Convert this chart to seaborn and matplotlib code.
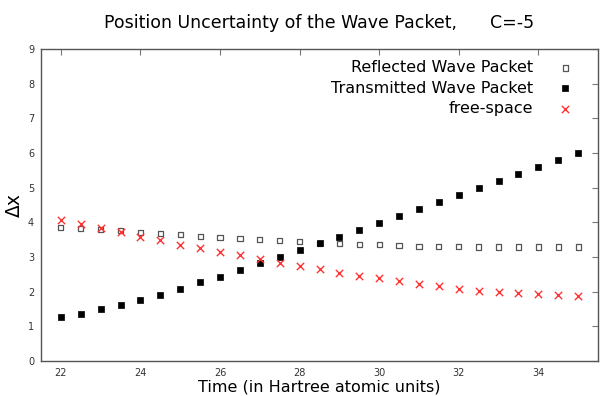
import numpy as np
import pandas as pd
import matplotlib
matplotlib.use("Agg")
import matplotlib.pyplot as plt
import seaborn as sns

time = [22, 22.5, 23, 23.5, 24, 24.5, 25, 25.5, 26, 26.5, 27, 27.5, 28, 28.5,
        29, 29.5, 30, 30.5, 31, 31.5, 32, 32.5, 33, 33.5, 34, 34.5, 35]
reflected = [3.85, 3.82, 3.80, 3.77, 3.71, 3.67, 3.64, 3.60, 3.57, 3.53, 3.51, 3.48, 3.44, 3.39,
             3.39, 3.37, 3.35, 3.33, 3.31, 3.31, 3.31, 3.29, 3.29, 3.29, 3.29, 3.29, 3.29]
transmitted = [1.28, 1.37, 1.49, 1.61, 1.75, 1.91, 2.08, 2.27, 2.43, 2.62, 2.82, 3.01, 3.20, 3.39,
               3.58, 3.78, 3.98, 4.17, 4.38, 4.58, 4.78, 4.99, 5.18, 5.40, 5.60, 5.79, 6.00]
free_space = [4.07, 3.95, 3.83, 3.71, 3.58, 3.48, 3.36, 3.26, 3.15, 3.05, 2.94, 2.83, 2.74, 2.65,
              2.55, 2.46, 2.38, 2.30, 2.23, 2.17, 2.09, 2.03, 1.99, 1.95, 1.92, 1.89, 1.87]
x_ticks = [22, 24, 26, 28, 30, 32, 34]
y_ticks = [0, 1, 2, 3, 4, 5, 6, 7, 8, 9]

df = pd.DataFrame({"t": time, "refl": reflected, "trans": transmitted, "free": free_space})

sns.set_theme(style="white")
plt.rcParams["font.family"] = ["DejaVu Sans"]
plt.rcParams["text.color"] = "black"
plt.rcParams["axes.labelcolor"] = "black"

fig = plt.figure(figsize=(6.0, 3.96), dpi=100)
ax = fig.add_axes([41/600, 1 - 361/396, 557/600, 312/396])

sns.scatterplot(data=df, x="t", y="refl", ax=ax, marker="s", s=14,
                fc="none", ec="#555555", linewidth=0.9, label="Reflected Wave Packet")
sns.scatterplot(data=df, x="t", y="trans", ax=ax, marker="s", s=18,
                color="black", ec="black", linewidth=0.5, label="Transmitted Wave Packet")
sns.scatterplot(data=df, x="t", y="free", ax=ax, marker="x", s=28,
                color="#ff3333", linewidth=1.0, label="free-space")

ax.set_xlim(21.5, 35.5)
ax.set_ylim(0, 9)
ax.set_xticks(x_ticks)
ax.set_yticks(y_ticks)
ax.tick_params(direction="in", length=4, width=0.8, color="#777777",
               top=True, right=True, labelsize=7, labelcolor="#333333", pad=5)
for sp in ax.spines.values():
    sp.set_color("#555555")
    sp.set_linewidth(1.0)

ax.set_xlabel("Time (in Hartree atomic units)", fontsize=11.5, labelpad=1, color="black")
ax.set_ylabel("Δx", fontsize=13.5, labelpad=3, color="black")
ax.set_title("Position Uncertainty of the Wave Packet,      C=-5", fontsize=12.5, pad=15,
             color="black")

leg = ax.legend(loc="upper right", frameon=False, markerfirst=False, fontsize=11.5,
                handletextpad=1.0, labelspacing=0.34, borderaxespad=0.3,
                bbox_to_anchor=(0.990, 1.0))
for t in leg.get_texts():
    t.set_color("black")

fig.savefig("out.png", dpi=100)
